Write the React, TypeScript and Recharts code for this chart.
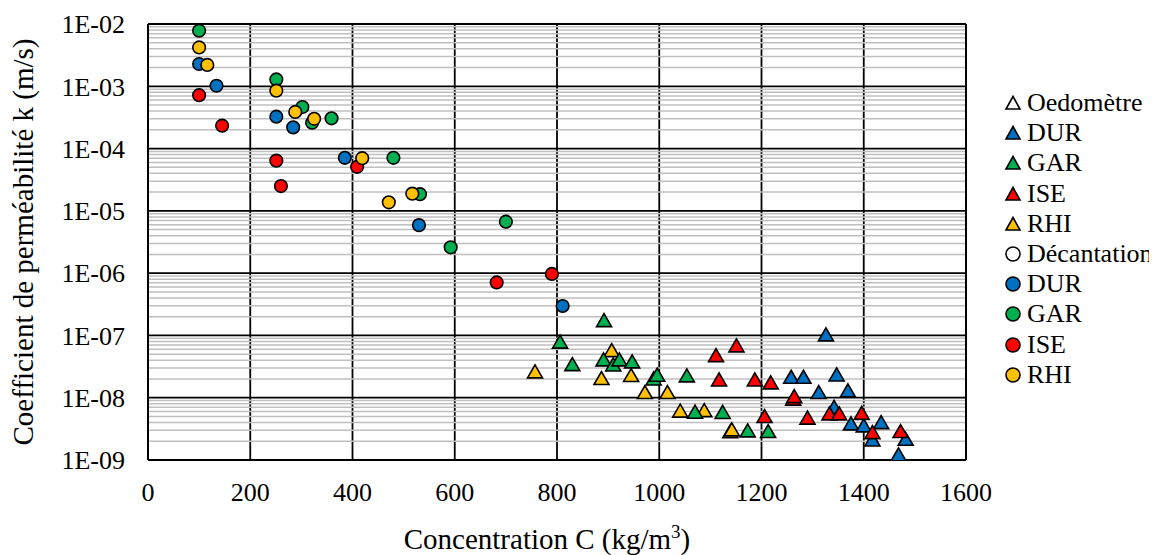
import React from "react"
import {
    ScatterChart,
    Scatter,
    XAxis,
    YAxis,
    CartesianGrid,
    ReferenceLine,
    Label,
} from "recharts"

// [concentration (kg/m3), k (m/s)]
const oedoRHI = [
    [757, 2.6e-8], [887, 2.03e-8], [907, 5.7e-8], [945, 2.27e-8], [972, 1.21e-8],
    [1016, 1.21e-8], [1041, 6.1e-9], [1088, 6.2e-9], [1139, 2.85e-9], [1142, 3.04e-9],
]
const oedoDUR = [
    [1326, 1.02e-7], [1258, 2.13e-8], [1282, 2.13e-8], [1347, 2.32e-8], [1312, 1.21e-8],
    [1369, 1.29e-8], [1342, 7.0e-9], [1375, 3.8e-9], [1400, 3.53e-9], [1434, 3.98e-9],
    [1417, 2.1e-9], [1482, 2.15e-9], [1468, 1.21e-9],
]
const oedoGAR = [
    [892, 1.73e-7], [806, 7.8e-8], [830, 3.4e-8], [891, 4.05e-8], [910, 3.36e-8],
    [922, 4.05e-8], [947, 3.76e-8], [989, 2.0e-8], [996, 2.3e-8], [1054, 2.24e-8],
    [1070, 5.85e-9], [1124, 5.8e-9], [1173, 2.93e-9], [1213, 2.86e-9],
]
const oedoISE = [
    [1111, 4.74e-8], [1151, 6.8e-8], [1117, 1.93e-8], [1187, 1.93e-8], [1218, 1.73e-8],
    [1206, 4.98e-9], [1262, 9.5e-9], [1264, 1.04e-8], [1290, 4.7e-9], [1333, 5.5e-9],
    [1352, 5.5e-9], [1396, 5.6e-9], [1417, 2.75e-9], [1472, 2.86e-9],
]
const decDUR = [
    [100, 2.28e-3], [134, 1.02e-3], [251, 3.25e-4], [284, 2.19e-4], [385, 7.1e-5],
    [530, 5.9e-6], [811, 2.97e-7],
]
const decGAR = [
    [100, 7.8e-3], [251, 1.29e-3], [302, 4.65e-4], [321, 2.6e-4], [359, 3.06e-4],
    [480, 7.1e-5], [532, 1.85e-5], [592, 2.6e-6], [700, 6.7e-6],
]
const decISE = [
    [100, 7.2e-4], [145, 2.33e-4], [251, 6.4e-5], [260, 2.5e-5], [409, 5.1e-5],
    [682, 7.1e-7], [790, 9.7e-7],
]
const decRHI = [
    [100, 4.2e-3], [116, 2.2e-3], [251, 8.5e-4], [288, 3.87e-4], [325, 3.0e-4],
    [419, 7.0e-5], [471, 1.37e-5], [517, 1.89e-5],
]

const xTicks = [0, 200, 400, 600, 800, 1000, 1200, 1400, 1600]
const yTicks = [1e-9, 1e-8, 1e-7, 1e-6, 1e-5, 1e-4, 1e-3, 1e-2]
const minorSteps = [2, 3, 4, 5, 6, 7, 8, 9]

const legendLabels = ["Oedomètre", "DUR", "GAR", "ISE", "RHI", "Décantation", "DUR", "GAR", "ISE", "RHI"]
const legendShapes = ["tri", "tri", "tri", "tri", "tri", "circle", "circle", "circle", "circle", "circle"]

const BLUE = "#0070C0"
const GREEN = "#00B050"
const RED = "#FF0000"
const YELLOW = "#FFC000"
const legendColors = ["#FFFFFF", BLUE, GREEN, RED, YELLOW, "#FFFFFF", BLUE, GREEN, RED, YELLOW]

const FONT = "Liberation Serif"

const minorLines = yTicks.slice(0, -1).flatMap(d => minorSteps.map(m => m * d))

const toPoints = (arr: number[][]) => arr.map(([x, k]) => ({ x, k }))

const fmtExp = (v: number) => {
    const e = Math.round(Math.log10(v))
    return `1E${e < 0 ? "-" : "+"}${String(Math.abs(e)).padStart(2, "0")}`
}

const triangle = (fill: string) => (props: any) => {
    const { cx, cy } = props
    if (cx == null || cy == null) return <g />
    return (
        <polygon
            points={`${cx},${cy - 7} ${cx + 7.5},${cy + 6} ${cx - 7.5},${cy + 6}`}
            fill={fill}
            stroke="#000"
            strokeWidth={1.6}
        />
    )
}

const circle = (fill: string) => (props: any) => {
    const { cx, cy } = props
    if (cx == null || cy == null) return <g />
    return <circle cx={cx} cy={cy} r={6.3} fill={fill} stroke="#000" strokeWidth={1.6} />
}

const XTitle = (props: any) => {
    const vb = props.viewBox || { x: 140, y: 452, width: 818 }
    return (
        <text
            x={vb.x + vb.width / 2 - 10}
            y={vb.y + 89}
            textAnchor="middle"
            fontFamily={FONT}
            fontSize={29}
            fill="#000"
        >
            Concentration C (kg/m
            <tspan fontSize={19} dy={-11}>3</tspan>
            <tspan dy={11}>)</tspan>
        </text>
    )
}

const YTitle = (props: any) => {
    const vb = props.viewBox || { x: 0, y: 16, width: 140, height: 436 }
    const x = vb.x + 25
    const y = vb.y + vb.height / 2
    return (
        <text
            x={x}
            y={y}
            transform={`rotate(-90, ${x}, ${y})`}
            textAnchor="middle"
            fontFamily={FONT}
            fontSize={29}
            fill="#000"
        >
            Coefficient de perméabilité k (m/s)
        </text>
    )
}

function LegendBox() {
    return (
        <div style={{ position: "absolute", left: 996, top: 80, width: 160, fontFamily: FONT }}>
            {legendLabels.map((label, i) => (
                <div
                    key={i}
                    style={{
                        position: "absolute",
                        left: 0,
                        top: i * 30.2,
                        height: 30,
                        display: "flex",
                        alignItems: "center",
                        whiteSpace: "nowrap",
                    }}
                >
                    <svg width={18} height={18} style={{ marginRight: 5 }}>
                        {legendShapes[i] === "tri" ? (
                            <polygon points="9,2.5 16,15 2,15" fill={legendColors[i]} stroke="#000" strokeWidth={1.6} />
                        ) : (
                            <circle cx={9} cy={9} r={7} fill={legendColors[i]} stroke="#000" strokeWidth={1.6} />
                        )}
                    </svg>
                    <span style={{ fontFamily: FONT, fontSize: 26, lineHeight: "30px", color: "#000" }}>{label}</span>
                </div>
            ))}
        </div>
    )
}

export default function App() {
    return (
        <div style={{ position: "relative", width: 1149, height: 547, fontFamily: FONT }}>
            <ScatterChart
                width={1149}
                height={547}
                margin={{ top: 16, right: 191, bottom: 0, left: 0 }}
                style={{ fontFamily: FONT }}
            >
                {minorLines.map(v => (
                    <ReferenceLine key={`m-${v}`} y={v} stroke="#BFBFBF" strokeWidth={1.5} />
                ))}
                <CartesianGrid stroke="#000" strokeWidth={1.8} />
                <ReferenceLine y={1e-2} stroke="#000" strokeWidth={2} />
                <ReferenceLine x={1600} stroke="#000" strokeWidth={2} />
                <XAxis
                    type="number"
                    dataKey="x"
                    domain={[0, 1600]}
                    ticks={xTicks}
                    allowDataOverflow
                    height={95}
                    tickLine={false}
                    tickSize={0}
                    tickMargin={23}
                    axisLine={{ stroke: "#000", strokeWidth: 2 }}
                    tick={{ fill: "#000", fontSize: 26, fontFamily: FONT }}
                >
                    <Label content={<XTitle />} />
                </XAxis>
                <YAxis
                    type="number"
                    dataKey="k"
                    scale="log"
                    domain={[1e-9, 1e-2]}
                    ticks={yTicks}
                    allowDataOverflow
                    width={140}
                    tickLine={false}
                    tickSize={0}
                    tickMargin={23}
                    tickFormatter={fmtExp}
                    axisLine={{ stroke: "#000", strokeWidth: 2 }}
                    tick={{ fill: "#000", fontSize: 26, fontFamily: FONT }}
                >
                    <Label content={<YTitle />} />
                </YAxis>
                <YAxis
                    yAxisId="minor"
                    type="number"
                    scale="log"
                    domain={[1e-9, 1e-2]}
                    ticks={[...minorLines, ...yTicks]}
                    allowDataOverflow
                    mirror
                    axisLine={false}
                    tickSize={6}
                    tickLine={{ stroke: "#000", strokeWidth: 1.3 }}
                    tick={false}
                />
                <Scatter data={toPoints(oedoRHI)} shape={triangle(YELLOW)} isAnimationActive={false} />
                <Scatter data={toPoints(oedoDUR)} shape={triangle(BLUE)} isAnimationActive={false} />
                <Scatter data={toPoints(oedoGAR)} shape={triangle(GREEN)} isAnimationActive={false} />
                <Scatter data={toPoints(oedoISE)} shape={triangle(RED)} isAnimationActive={false} />
                <Scatter data={toPoints(decDUR)} shape={circle(BLUE)} isAnimationActive={false} />
                <Scatter data={toPoints(decGAR)} shape={circle(GREEN)} isAnimationActive={false} />
                <Scatter data={toPoints(decISE)} shape={circle(RED)} isAnimationActive={false} />
                <Scatter data={toPoints(decRHI)} shape={circle(YELLOW)} isAnimationActive={false} />
            </ScatterChart>
            <LegendBox />
        </div>
    )
}
